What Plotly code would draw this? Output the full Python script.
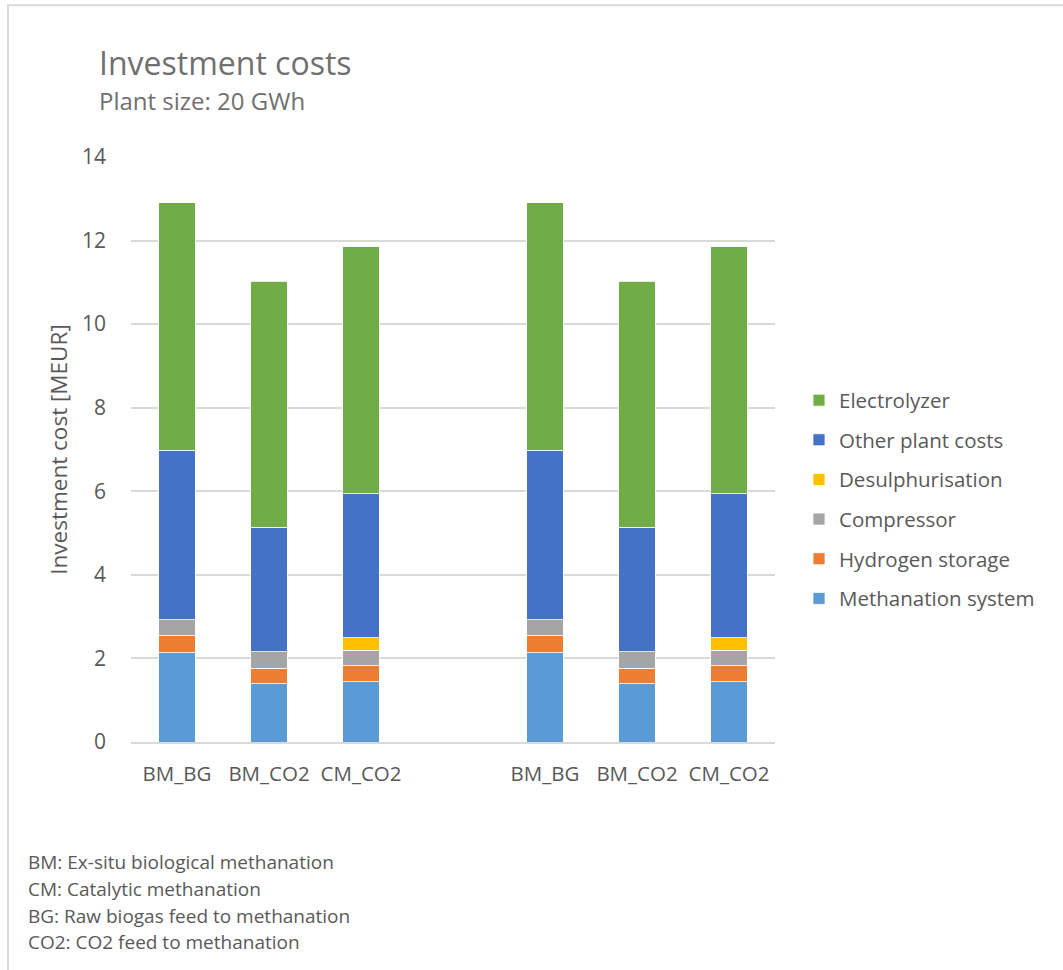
import plotly.graph_objects as go

# Category slots: two identical groups separated by an empty slot
categories = ["BM_BG", "BM_CO2", "CM_CO2", "BM_BG", "BM_CO2", "CM_CO2"]
slot_positions = [0, 1, 2, 4, 5, 6]

# Cost components in MEUR (bottom to top of each stack)
methanation_system = [2.14, 1.40, 1.44, 2.14, 1.40, 1.44]
hydrogen_storage = [0.40, 0.37, 0.39, 0.40, 0.37, 0.39]
compressor = [0.39, 0.39, 0.37, 0.39, 0.39, 0.37]
desulphurisation = [0.00, 0.00, 0.30, 0.00, 0.00, 0.30]
other_plant_costs = [4.05, 2.98, 3.44, 4.05, 2.98, 3.44]
electrolyzer = [5.92, 5.89, 5.91, 5.92, 5.89, 5.91]

series = [
    ("Methanation system", methanation_system, "#5b9bd5"),
    ("Hydrogen storage", hydrogen_storage, "#ed7d31"),
    ("Compressor", compressor, "#a5a5a5"),
    ("Desulphurisation", desulphurisation, "#ffc000"),
    ("Other plant costs", other_plant_costs, "#4472c4"),
    ("Electrolyzer", electrolyzer, "#70ad47"),
]

FONT = "Open Sans"
TEXT = "#595959"

W, H = 1063, 970
PL, PR, PT, PB = 131, 775, 156.7, 741.7

fig = go.Figure()
n = len(series)
for i, (name, vals, color) in enumerate(series):
    fig.add_trace(go.Bar(
        x=slot_positions, y=vals, name=name, width=0.4,
        marker=dict(color=color, line=dict(color="rgba(255,255,255,0.8)", width=1)),
        legendgroup=name, legendrank=n - i,
    ))

def px_x(p):
    return (p - PL) / (PR - PL)

def px_y(p):
    return (PB - p) / (PB - PT)

annotations = [
    dict(text="Investment costs", x=px_x(97), y=px_y(62), xref="paper", yref="paper",
         xanchor="left", yanchor="middle", showarrow=False,
         font=dict(family=FONT, size=32, color="#707070")),
    dict(text="Plant size: 20 GWh", x=px_x(97), y=px_y(100), xref="paper", yref="paper",
         xanchor="left", yanchor="middle", showarrow=False,
         font=dict(family=FONT, size=24, color="#707070")),
]

notes = [
    "BM: Ex-situ biological methanation",
    "CM: Catalytic methanation",
    "BG: Raw biogas feed to methanation",
    "CO2: CO2 feed to methanation",
]
for i, line in enumerate(notes):
    annotations.append(dict(
        text=line, x=px_x(26), y=px_y(862 + i * 26.7), xref="paper", yref="paper",
        xanchor="left", yanchor="middle", showarrow=False,
        font=dict(family=FONT, size=19, color=TEXT)))

fig.update_layout(
    width=W, height=H,
    margin=dict(l=PL, r=W - PR, t=PT, b=H - PB, pad=0),
    paper_bgcolor="white", plot_bgcolor="white",
    barmode="stack",
    font=dict(family=FONT, color=TEXT),
    showlegend=True,
    legend=dict(
        x=px_x(799), y=px_y(380), xanchor="left", yanchor="top",
        traceorder="grouped", tracegroupgap=10,
        font=dict(family=FONT, size=20.5, color=TEXT),
        bgcolor="rgba(0,0,0,0)",
    ),
    xaxis=dict(
        range=[-0.5, 6.5], tickmode="array", tickvals=slot_positions, ticktext=categories,
        showgrid=False, zeroline=False, showline=True, linecolor="#d9d9d9", linewidth=2,
        tickfont=dict(family=FONT, size=20.5, color=TEXT), ticklabelstandoff=12,
    ),
    yaxis=dict(
        range=[0, 14], dtick=2, showgrid=True, gridcolor="#d9d9d9", gridwidth=2,
        zeroline=False, tickfont=dict(family=FONT, size=21, color=TEXT),
        ticklabelstandoff=24,
        title=dict(text="Investment cost [MEUR]", standoff=8,
                   font=dict(family=FONT, size=22.5, color=TEXT)),
    ),
    annotations=annotations,
    shapes=[dict(type="rect", xref="paper", yref="paper",
                 x0=px_x(8), x1=px_x(1075), y0=px_y(985), y1=px_y(5),
                 line=dict(color="#d9d9d9", width=2), fillcolor="rgba(0,0,0,0)", layer="below")],
)

fig.write_html("out.html")
